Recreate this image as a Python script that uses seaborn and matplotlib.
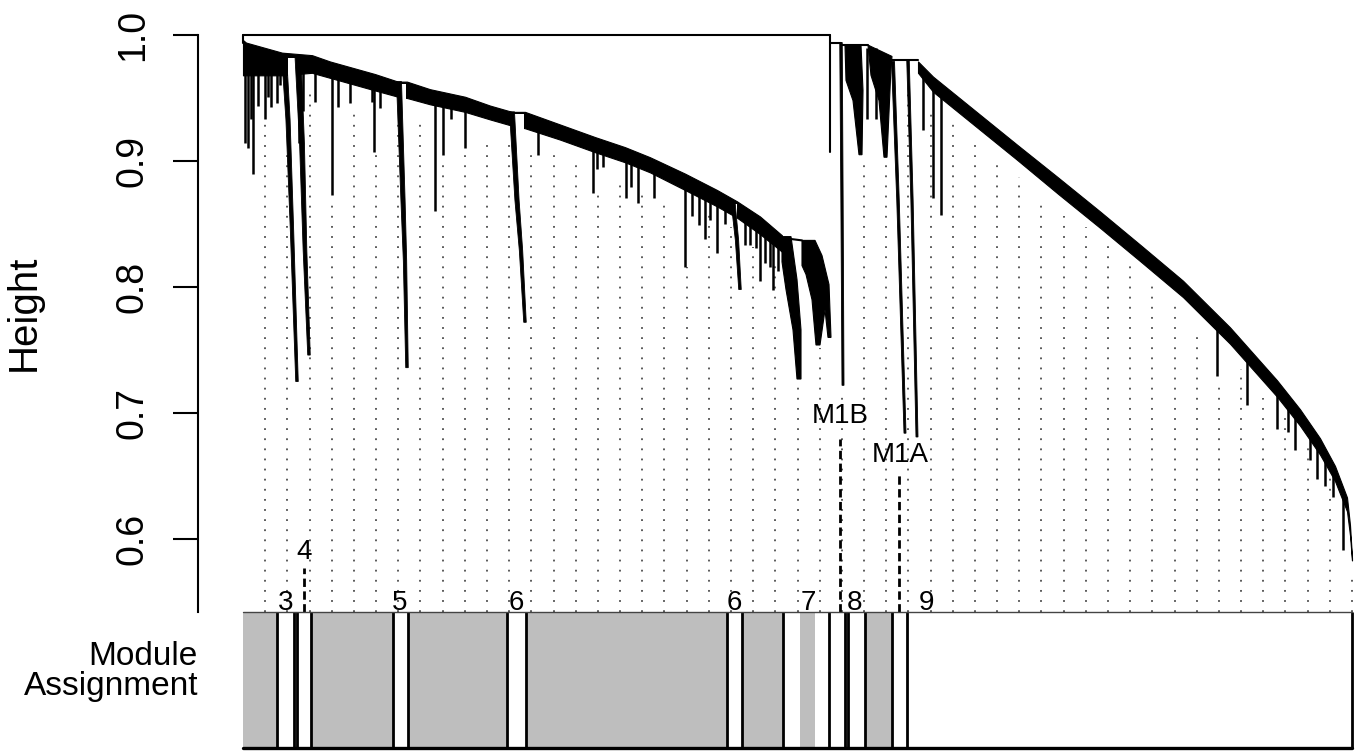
import numpy as np
import matplotlib
matplotlib.use("Agg")
import matplotlib.pyplot as plt
import seaborn as sns

# gene dendrogram (WGCNA style): leaves in dendrogram order 0..1109, height = 1 - TOM
n_leaves = 1109
h_floor = 0.5421

# main left branch: merge-height band (upper / lower edge)
left_x = [0, 3, 39, 69, 87, 105, 132, 155, 164, 187, 222, 247, 269, 282, 317, 352, 382, 407,
          442, 474, 494, 517, 539]
left_top = [.996, .994, .986, .984, .979, .975, .969, .963, .963, .957, .951, .944, .939, .939,
            .929, .919, .911, .903, .890, .877, .868, .856, .841]
left_bot = [.968, .968, .968, .970, .966, .962, .956, .951, .950, .945, .939, .933, .928, .926,
            .917, .907, .899, .891, .877, .864, .855, .842, .828]

# main right branch (module 9)
right_x = [675, 690, 732, 774, 815, 857, 898, 940, 987, 1034, 1057, 1077, 1092, 1104, 1107, 1109]
right_top = [.979, .967, .940, .913, .887, .860, .833, .805, .768, .726, .703, .680, .658, .633,
             .611, .585]
right_bot = [.970, .955, .928, .901, .874, .847, .820, .792, .755, .713, .690, .667, .646, .622,
             .603, .583]

# gaps inside the left band where module branches split off
notch_x0 = [45, 157, 271, 491]
notch_x1 = [53, 163, 281, 494]
notch_top = [.982, .961, .937, .866]
notch_bot = [.960, .945, .918, .853]

# module branches hanging from the band
tail_x = [[41, 45, 49, 54], [55, 59, 62, 66], [156, 160, 162, 164], [269, 274, 278, 282],
          [490, 494, 497], [598, 599, 600], [650, 655, 662], [665, 669, 674]]
tail_h = [[.985, .933, .845, .725], [.983, .914, .829, .746], [.963, .869, .821, .736],
          [.939, .869, .829, .772], [.868, .837, .798], [.994, .869, .722],
          [.979, .869, .684], [.980, .869, .681]]

# dense sub-clusters (outline of leaves)
blob_x = [[539, 548, 554, 558, 558, 554, 550, 543, 539],
          [559, 572, 579, 586, 588, 585, 582, 577, 573, 569, 563, 559],
          [602, 618, 620, 619, 616, 610, 603],
          [625, 649, 648, 644, 641, 636, 628]]
blob_h = [[.840, .840, .806, .766, .727, .727, .766, .798, .820],
          [.837, .837, .825, .802, .760, .760, .782, .754, .754, .790, .810, .817],
          [.992, .992, .956, .905, .905, .948, .964],
          [.992, .983, .974, .903, .903, .948, .968]]

# single leaves dropping from the bands
spike_left_x = [2, 5, 8, 10, 15, 22, 25, 28, 34, 37, 56, 60, 72, 89, 95, 107, 129, 131, 137,
                192, 200, 208, 222, 295, 350, 354, 360, 383, 388, 395, 411, 442, 449, 456,
                462, 467, 474, 482, 502, 507, 513, 517, 522, 527, 530, 535]
spike_left_h = [.914, .910, .933, .890, .944, .933, .951, .943, .946, .960, .914, .940, .947,
                .873, .943, .946, .947, .907, .942, .860, .905, .933, .910, .905, .875, .894,
                .895, .871, .879, .867, .871, .816, .856, .849, .838, .853, .827, .850, .833,
                .833, .831, .805, .819, .816, .798, .813]
spike_right_x = [680, 690, 698, 974, 1004, 1034, 1045, 1052, 1067, 1074, 1082, 1090, 1100]
spike_right_h = [.925, .871, .857, .729, .706, .687, .685, .671, .663, .648, .642, .633, .591]
spike_mid_x = [624, 633]
spike_mid_h = [.933, .933]

# dotted guide lines (50 evenly spaced leaves)
guide_top = [.933, .909, .955, .871, .942, .906, .930, .932, .903, .909, .916, .916, .909, .909,
             .903, .875, .885, .877, .869, .816, .857, .848, .832, .821, .724, .752, .717, .903,
             .901, .956, .939, .932, .917, .902, .887, .871, .856, .848, .833, .818, .803, .788,
             .765, .726, .735, .712, .697, .675, .657, .570]

# module labels
lab_text = ["3", "4", "5", "6", "6", "7", "8", "9", "M1B", "M1A"]
lab_x = [43, 61, 157, 273, 491, 565, 612, 684, 597, 657]
lab_h = [.549, .590, .549, .549, .549, .549, .549, .549, .698, .667]
pointer_x = [61, 597, 656]
pointer_top = [.577, .679, .652]

# module assignment bar
mod_start = [34, 54, 150, 264, 484, 540, 586, 605, 649, 664]
mod_end = [51, 68, 165, 283, 499, 586, 602, 622, 664, 1109]
grey_start = [0, 557]
grey_end = [664, 572]

sns.set_theme(style="white")
plt.rcParams["font.family"] = ["Liberation Sans", "DejaVu Sans"]
plt.rcParams["text.color"] = "black"

fig = plt.figure(figsize=(13.6, 7.52), dpi=100)
ax = fig.add_axes([198 / 1360, 1 - 612 / 752, 1160 / 1360, 587 / 752])
ax2 = fig.add_axes([198 / 1360, 1 - 748 / 752, 1160 / 1360, 136 / 752])

# guides first, under the tree
gx = np.arange(1, 51) * n_leaves / 50
ax.vlines(gx, h_floor, guide_top, colors="#4d4d4d", linestyles=(0, (1, 4.6)), lw=1.3, zorder=1)

k = "black"
# root and top merges
ax.plot([0, 587], [1.0, 1.0], color=k, lw=1.5, zorder=3)
ax.plot([0, 0], [1.0, .994], color=k, lw=1.5, zorder=3)
ax.plot([587, 587], [1.0, .907], color=k, lw=1.5, zorder=3)
ax.plot([587, 598], [.994, .994], color=k, lw=1.5, zorder=3)
ax.plot([598, 625], [.992, .992], color=k, lw=1.5, zorder=3)
ax.plot([649, 675], [.980, .980], color=k, lw=1.5, zorder=3)
ax.plot([539, 559], [.839, .837], color=k, lw=1.5, zorder=3)

ax.fill_between(left_x, left_bot, left_top, color=k, lw=0.8, zorder=2)
ax.fill_between(right_x, right_bot, right_top, color=k, lw=0.8, zorder=2)
for x0, x1, t, b in zip(notch_x0, notch_x1, notch_top, notch_bot):
    ax.fill_between([x0, x1], [b, b], [t, t], color="white", lw=0, zorder=2.5)

widths = [(5, 2.5), (6, 2.5), (5, 2.5), (5, 2.5), (4, 2.5), (2.5, 2), (3, 2), (2.5, 2)]
for xs, hs, (w0, w1) in zip(tail_x, tail_h, widths):
    xs, hs = np.asarray(xs, float), np.asarray(hs, float)
    w = np.linspace(w0, w1, len(xs))
    ax.fill(np.r_[xs - w / 2, (xs + w / 2)[::-1]], np.r_[hs, hs[::-1]], color=k, lw=0.6, zorder=3)

for xs, hs in zip(blob_x, blob_h):
    ax.fill(xs, hs, color=k, lw=0.8, zorder=3)

top_l = np.interp(spike_left_x, left_x, left_bot) + 0.004
ax.vlines(spike_left_x, spike_left_h, top_l, colors=k, lw=1.8, zorder=3)
top_r = np.interp(spike_right_x, right_x, right_bot) + 0.004
ax.vlines(spike_right_x, spike_right_h, top_r, colors=k, lw=1.8, zorder=3)
ax.vlines(spike_mid_x, spike_mid_h, 0.99, colors=k, lw=1.8, zorder=3)

for t, x, h in zip(lab_text, lab_x, lab_h):
    ax.text(x, h, t, ha="center", va="center", fontsize=20, color=k, zorder=5)
ax.vlines(pointer_x, h_floor, pointer_top, colors=k, linestyles=(0, (3, 1.6)), lw=2.0, zorder=4)

ax.set_xlim(-45, 1115)
ax.set_ylim(h_floor, 1 + 10 / 1260)
sns.despine(ax=ax, top=True, right=True, bottom=True)
ax.spines["left"].set_bounds(h_floor, 1.0)
ax.spines["left"].set_linewidth(1.5)
ax.spines["left"].set_color(k)
ax.set_xticks([])
ax.set_yticks([0.6, 0.7, 0.8, 0.9, 1.0])
ax.set_yticklabels(["0.6", "0.7", "0.8", "0.9", "1.0"], rotation=90, va="center")
ax.tick_params(axis="y", direction="out", length=18, width=1.5, pad=16, labelsize=27,
               left=True, color=k, labelcolor=k)
ax.patch.set_alpha(0)

fig.text(24 / 1360, 1 - 313 / 752, "Height", rotation=90, ha="center", va="center",
         fontsize=29, color=k)

# module assignment colour bar
grey = "#bebebe"
ax2.bar(grey_start[:1], [1], width=[grey_end[0] - grey_start[0]], align="edge", color=grey, lw=0)
ax2.bar(mod_start, [1] * len(mod_start), width=np.subtract(mod_end, mod_start), align="edge",
        color="white", lw=0)
ax2.bar(grey_start[1:], [1], width=[grey_end[1] - grey_start[1]], align="edge", color=grey, lw=0)
edges = sorted(set(mod_start) | set(mod_end))
ax2.vlines(edges, 0, 1, colors=k, lw=2.0)
ax2.plot([0, n_leaves], [1, 1], color="#444444", lw=1.0, clip_on=False)
ax2.plot([0, n_leaves], [0, 0], color=k, lw=2.4, clip_on=False)
ax2.set_xlim(-45, 1115)
ax2.set_ylim(0, 1)
ax2.set_axis_off()

fig.text(197 / 1360, 1 - 665 / 752, "Module", ha="right", va="baseline", fontsize=24, color=k)
fig.text(198 / 1360, 1 - 695 / 752, "Assignment", ha="right", va="baseline", fontsize=24, color=k)

fig.savefig("out.png", dpi=100, facecolor="white")
